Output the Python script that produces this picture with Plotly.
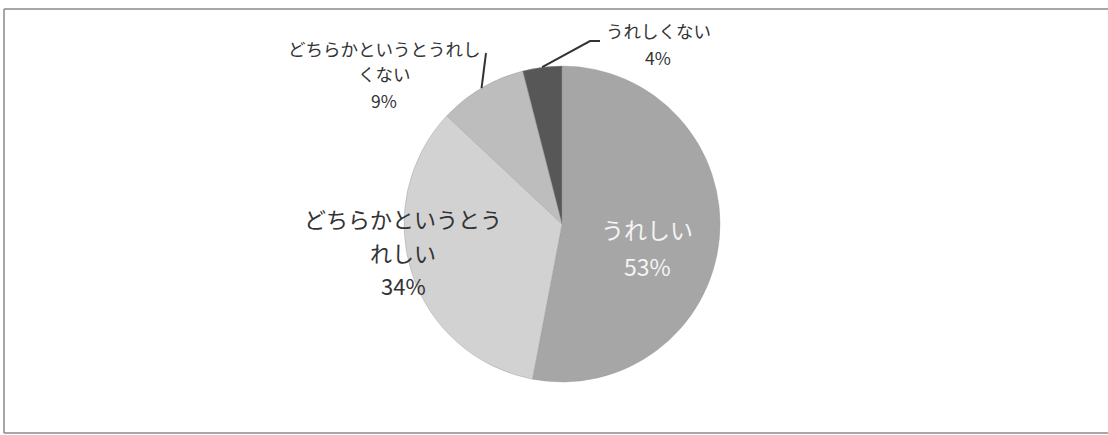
import math
import plotly.graph_objects as go

# ---- data ----
labels = ["うれしい", "どちらかというとうれしい", "どちらかというとうれしくない", "うれしくない"]
values = [53, 34, 9, 4]
label_lines = [["うれしい"], ["どちらかというとう", "れしい"], ["どちらかというとうれし", "くない"], ["うれしくない"]]
colors = ["#a6a6a6", "#d2d2d2", "#bdbdbd", "#575757"]

W, H = 1108, 435
CX, CY, R = 562, 224, 158  # pie centre / radius in pixels

def px(x):
    return x / W

def py(y):
    return 1 - y / H

fig = go.Figure(go.Pie(
    labels=labels, values=values, sort=False, direction="clockwise", rotation=0,
    marker=dict(colors=colors, line=dict(color="#9a9a9a", width=0.4)),
    textinfo="none", hoverinfo="label+percent", showlegend=False,
    domain=dict(x=[px(CX - R), px(CX + R)], y=[py(CY + R), py(CY - R)]),
))

# label layout (pixel anchors for text blocks)
label_style = [
    dict(x=647, y=[229, 266], size=23, color="#f4f4f4"),
    dict(x=403, y=[218, 252, 285], size=22, color="#333333"),
    dict(x=384, y=[48, 74, 101], size=17.5, color="#333333"),
    dict(x=658, y=[30, 57], size=17.5, color="#333333"),
]

total = sum(values)
annotations = []
for lines, v, st in zip(label_lines, values, label_style):
    texts = lines + [f"{round(100 * v / total)}%"]
    for t, yy in zip(texts, st["y"]):
        annotations.append(dict(
            x=px(st["x"]), y=py(yy), xref="paper", yref="paper", text=t,
            showarrow=False, xanchor="center", yanchor="middle",
            font=dict(size=st["size"], color=st["color"], family="Noto Sans CJK JP"),
        ))

# leader lines from slice mid-angles
cum = 0
mids = []
for v in values:
    mids.append((cum + v / 2) / total * 2 * math.pi)
    cum += v

def edge(a):
    return CX + R * math.sin(a), CY - R * math.cos(a)

shapes = []
x9, y9 = edge(mids[2])
shapes.append(dict(type="line", xref="paper", yref="paper",
                   x0=px(x9), y0=py(y9), x1=px(486), y1=py(53),
                   line=dict(color="#333333", width=2)))
x4, y4 = edge(mids[3])
shapes.append(dict(type="path", xref="paper", yref="paper", fillcolor="rgba(0,0,0,0)",
                   path=f"M {px(x4)},{py(y4)} L {px(590)},{py(41)} L {px(600)},{py(41)}",
                   line=dict(color="#333333", width=2)))

# frame (top, left, bottom only)
frame = dict(color="#8a8a8a", width=1.5)
shapes.append(dict(type="line", xref="paper", yref="paper", x0=px(4), y0=py(9), x1=px(1108), y1=py(9), line=frame))
shapes.append(dict(type="line", xref="paper", yref="paper", x0=px(4), y0=py(9), x1=px(4), y1=py(433), line=frame))
shapes.append(dict(type="line", xref="paper", yref="paper", x0=px(4), y0=py(433), x1=px(1108), y1=py(433), line=frame))

fig.update_layout(
    width=W, height=H, margin=dict(l=0, r=0, t=0, b=0),
    paper_bgcolor="white", plot_bgcolor="white",
    annotations=annotations, shapes=shapes,
    font=dict(family="Noto Sans CJK JP"),
)

fig.write_html("out.html", config={"displayModeBar": False},
               post_script="document.body.style.margin='0';document.body.style.overflow='hidden';")
